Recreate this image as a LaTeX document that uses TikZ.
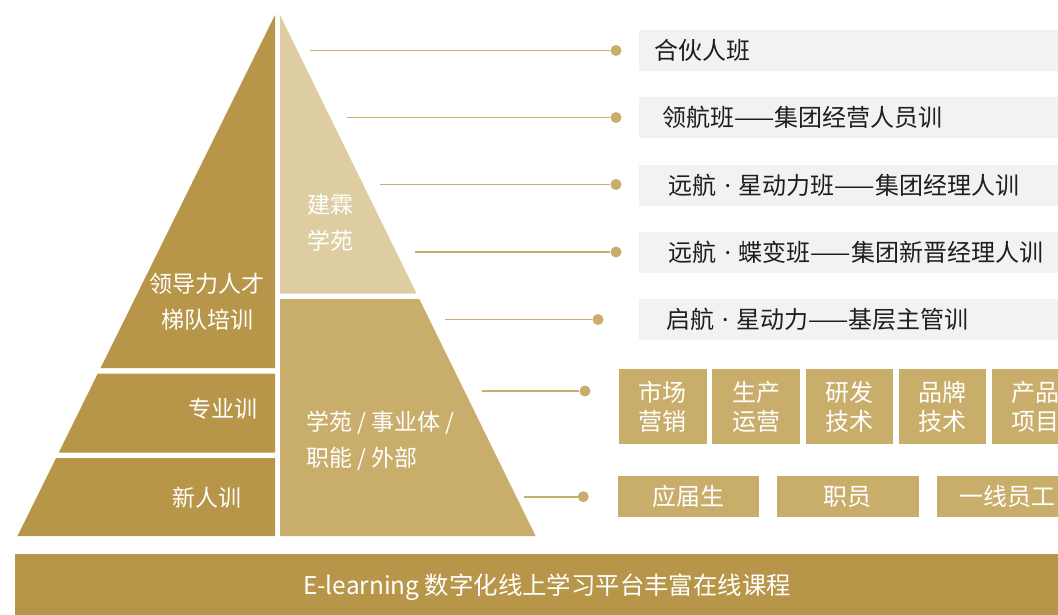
\documentclass[tikz,border=0pt]{standalone}
\usepackage{fontspec}
\newfontfamily\cjk{Noto Sans CJK SC}
\newfontfamily\latinsans{Noto Sans}
\usepackage{tikz}
\usetikzlibrary{calc}
\definecolor{darkgold}{HTML}{B7964A}
\definecolor{midgold}{HTML}{C9AD6A}
\definecolor{lightgold}{HTML}{DDCDA0}
\definecolor{boxgray}{HTML}{F2F2F2}
\definecolor{labeltext}{HTML}{1E1E1E}
\tikzset{
  pyrtext/.style={text=white, inner sep=0pt, font=\cjk\fontsize{23}{36}\selectfont},
  graybox/.style={fill=boxgray, anchor=west, minimum height=41, text width=400, align=left, inner ysep=0pt, text=labeltext, font=\cjk\fontsize{24}{29}\selectfont},
  deptbox/.style={fill=midgold, minimum width=87.5, minimum height=75, inner sep=0pt, align=center, text=white, font=\cjk\fontsize{24}{29.5}\selectfont},
  staffbox/.style={fill=midgold, minimum width=141.6, minimum height=41.3, inner sep=0pt, text=white, font=\cjk\fontsize{24}{29}\selectfont},
  leaddot/.style={circle, fill=midgold, minimum size=11, inner sep=0pt},
  leadline/.style={draw=midgold, line width=1.6pt}
}
\newcommand{\mdot}{{\latinsans\ ·\ }}
\newcommand{\leader}[4]{\coordinate (#1s) at (#2,#4); \node[leaddot] (#1d) at (#3,#4) {}; \draw[leadline] (#1s) -- (#1d);}
\newcommand{\deptbox}[3]{\node[deptbox] (#1) at (#2,406.8) {#3};}
\newcommand{\staffbox}[3]{\node[staffbox] (#1) at (#2,496.7) {#3};}

\begin{document}
\begin{tikzpicture}[x=1pt, y=-1pt]
        \useasboundingbox (0,0) rectangle (1058,615);
        \clip (0,0) rectangle (1058,615);
        % left half of the pyramid
        \fill[darkgold] (275,15) -- (275,368) -- (100.6,368) -- cycle;
        \fill[darkgold] (97.8,373.5) -- (275,373.5) -- (275,452.5) -- (58.8,452.5) -- cycle;
        \fill[darkgold] (56.1,458) -- (275,458) -- (275,536) -- (17.5,536) -- cycle;
        % right half of the pyramid
        \fill[lightgold] (280,15) -- (416.6,293.5) -- (280,293.5) -- cycle;
        \fill[midgold] (280,299) -- (419.3,299) -- (535.6,536) -- (280,536) -- cycle;
        \node[pyrtext, align=center] (lead) at (207,302) {领导力人才\\梯队培训};
        \node[pyrtext] (prof) at (223,409) {专业训};
        \node[pyrtext] (newc) at (207,498) {新人训};
        \node[pyrtext, align=left, anchor=west] (acad) at (307,222.7) {建霖\\学苑};
        \node[pyrtext, align=left, anchor=west] (unit) at (306,441) {学苑 / 事业体 /\\职能 / 外部};
        % bottom bar
        \fill[darkgold] (15,553.5) rectangle (1070,620);
        \node[text=white, font=\cjk\fontsize{24.4}{29}\selectfont] (elearn) at (547,587) {E-learning 数字化线上学习平台丰富在线课程};
        % leader lines
        \leader{la}{310}{616}{50.5}
        \leader{lb}{346.5}{616}{117.5}
        \leader{lc}{379.5}{616}{184.5}
        \leader{ld}{414.6}{616}{252}
        \leader{le}{445}{598}{319.5}
        \leader{lf}{481.7}{585}{391}
        \leader{lg}{524.3}{583.3}{496.7}
        % course boxes
        \node[graybox, inner xsep=16] (ga) at (638.3,50.5) {合伙人班};
        \node[graybox, inner xsep=24] (gb) at (638.3,117.8) {领航班——集团经营人员训};
        \node[graybox, inner xsep=30] (gc) at (638.3,185.2) {远航\mdot 星动力班——集团经理人训};
        \node[graybox, inner xsep=30] (gd) at (638.3,252.4) {远航\mdot 蝶变班——集团新晋经理人训};
        \node[graybox, inner xsep=27.5] (ge) at (638.3,319.7) {启航\mdot 星动力——基层主管训};
        \deptbox{da}{662.75}{市场\\营销}
        \deptbox{db}{756}{生产\\运营}
        \deptbox{dc}{849.25}{研发\\技术}
        \deptbox{dd}{942.5}{品牌\\技术}
        \deptbox{de}{1035.75}{产品\\项目}
        \staffbox{sa}{688.5}{应届生}
        \staffbox{sb}{847.8}{职员}
        \staffbox{sc}{1007.8}{一线员工}
    \end{tikzpicture}
\end{document}
